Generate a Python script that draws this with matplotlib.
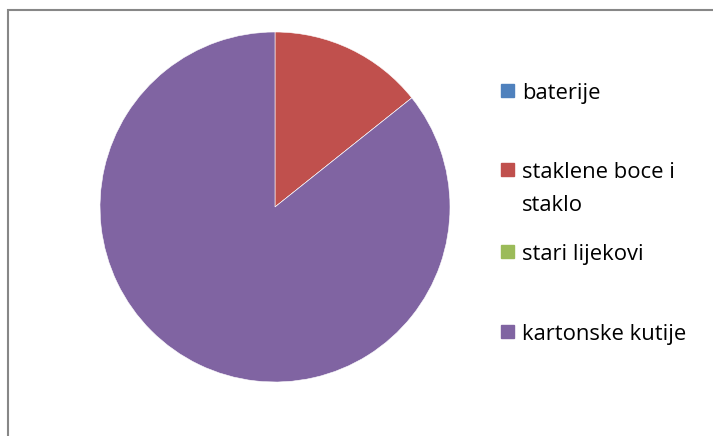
import matplotlib.pyplot as plt
from matplotlib.patches import Rectangle

# === DATA ===
labels = ["baterije", "staklene boce i\nstaklo", "stari lijekovi", "kartonske kutije"]
values = [0, 1, 0, 6]
colors = ["#4F81BD", "#C0504D", "#9BBB59", "#8064A2"]

W, H = 713, 436
fig = plt.figure(figsize=(W / 100, H / 100), dpi=100)
plt.rcParams['font.family'] = ['Open Sans', 'DejaVu Sans']

# chart frame (grey border, runs off the right/bottom edge)
fig.patches.append(Rectangle((8 / W, -0.1), 1.0, 1.1 - 10 / H,
                             transform=fig.transFigure, fill=False,
                             edgecolor="#878787", linewidth=1.5))

# === PIE ===
cx, cy, r = 275, 207, 175
ax = fig.add_axes([(cx - r) / W, (H - cy - r) / H, 2 * r / W, 2 * r / H])
ax.pie(values, colors=colors, startangle=90, counterclock=False,
       wedgeprops=dict(edgecolor="white", linewidth=0.4))
ax.set_xlim(-1, 1)
ax.set_ylim(-1, 1)
ax.set_aspect("auto")
ax.axis("off")

# === LEGEND ===
# y of the first text line centre for each entry (pixels from top)
legend_y = [91, 170, 252, 332]
for lab, col, y in zip(labels, colors, legend_y):
    fig.patches.append(Rectangle((501 / W, (H - y - 6) / H), 13 / W, 13 / H,
                                 transform=fig.transFigure, color=col))
    fig.text(522 / W, (H - y) / H, lab.split("\n")[0], fontsize=15.8,
             va="center_baseline", ha="left", color="black")
    if "\n" in lab:
        fig.text(522 / W, (H - y - 33) / H, lab.split("\n")[1], fontsize=15.8,
                 va="center_baseline", ha="left", color="black")

fig.savefig("out.png", dpi=100)
